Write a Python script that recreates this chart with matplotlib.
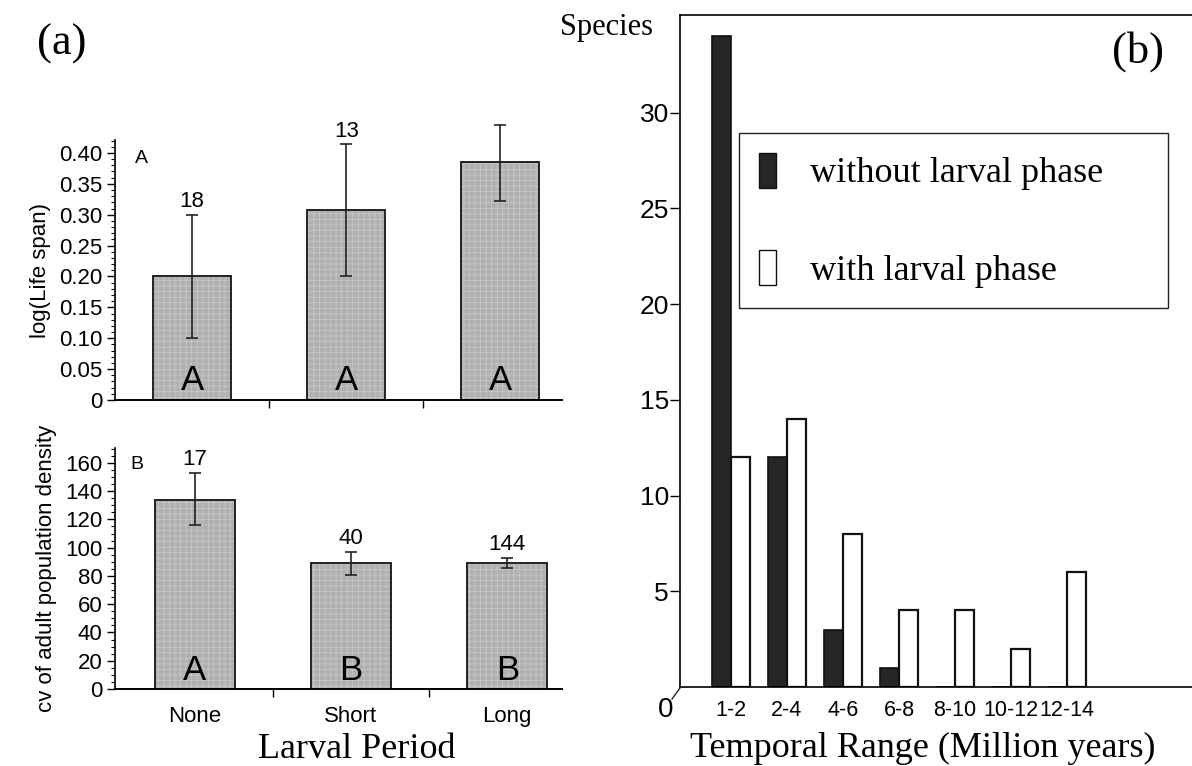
import numpy as np
from matplotlib import pyplot as plt
from matplotlib.patches import Patch
from matplotlib.lines import Line2D
from matplotlib.ticker import MultipleLocator

plt.rcParams['font.family'] = 'Liberation Sans'
plt.rcParams['xtick.direction'] = 'out'
plt.rcParams['ytick.direction'] = 'out'
plt.rcParams['hatch.linewidth'] = 0.5

# panel (a) data
larval = ['None', 'Short', 'Long']
life_mean = [0.20, 0.307, 0.385]
life_lo = [0.10, 0.20, 0.323]
life_hi = [0.30, 0.414, 0.445]
life_n = ['18', '13', '42']
life_grp = ['A', 'A', 'A']

cv_mean = [134, 89, 89]
cv_lo = [116, 81, 85.5]
cv_hi = [153, 97, 93]
cv_n = ['17', '40', '144']
cv_grp = ['A', 'B', 'B']

# panel (b) data
ranges = ['1-2', '2-4', '4-6', '6-8', '8-10', '10-12', '12-14']
without_larva = [34, 12, 3, 1, 0, 0, 0]
with_larva = [12, 14, 8, 4, 4, 2, 6]

W, H = 1192, 766
fig = plt.figure(figsize=(W/100, H/100), dpi=100)

def fx(px):
    return px / W
def fy(py):
    return 1 - py / H

serif = 'Liberation Serif'
gray = '#b0b0b0'


def bar_panel(ax, mean, lo, hi, nlab, grp, ylim, major, minor, fmt, xlim, width):
    x = np.arange(len(mean))
    # stippled grey fill, then the dark outline
    ax.bar(x, mean, width=width, color=gray, edgecolor='#c9c9c9', hatch='+++', linewidth=0, zorder=2)
    ax.bar(x, mean, width=width, fill=False, edgecolor='#222222', linewidth=1.4, zorder=2)
    err = [np.array(mean) - np.array(lo), np.array(hi) - np.array(mean)]
    eb = ax.errorbar(x, mean, yerr=err, fmt='none', ecolor='#222222', elinewidth=1.2,
                     capsize=4, capthick=1.2, zorder=3)
    for art in eb.lines[1] + eb.lines[2]:
        art.set_clip_on(False)
    for i in range(len(mean)):
        t = ax.annotate(nlab[i], (x[i], hi[i]), xytext=(0, 2), textcoords='offset points',
                        ha='center', va='bottom', fontsize=16)
        t.set_clip_on(False)
        ax.text(x[i], ylim[1] * 0.01, grp[i], ha='center', va='bottom', fontsize=25, zorder=4)
    ax.set_xlim(*xlim)
    ax.set_ylim(*ylim)
    ax.yaxis.set_major_locator(MultipleLocator(major))
    ax.yaxis.set_minor_locator(MultipleLocator(minor))
    ax.set_yticklabels([fmt(v) for v in ax.get_yticks()])
    ax.set_ylim(*ylim)
    ax.set_xticks([0.5, 1.5])
    ax.set_xticklabels([])
    ax.tick_params(axis='x', which='major', length=6, width=1)
    ax.tick_params(axis='y', which='major', length=6, width=1, labelsize=16, pad=3)
    ax.tick_params(axis='y', which='minor', length=3, width=0.8)
    for s in ['top', 'right']:
        ax.spines[s].set_visible(False)
    ax.spines['left'].set_linewidth(1.2)
    ax.spines['bottom'].set_linewidth(1.4)
    return x


axA = fig.add_axes([fx(115), fy(400), fx(562 - 115), (400 - 140) / H])
bar_panel(axA, life_mean, life_lo, life_hi, life_n, life_grp, (0, 0.421), 0.05, 0.01,
          lambda v: '0' if v == 0 else '%.2f' % v, (-0.5, 2.4), 0.505)
axA.set_ylabel('log(Life span)', fontsize=16, labelpad=6)
axA.text(0.045, 0.93, 'A', transform=axA.transAxes, fontsize=14, ha='left', va='center')

axB = fig.add_axes([fx(115), fy(689), fx(562 - 115), (689 - 448) / H])
xb = bar_panel(axB, cv_mean, cv_lo, cv_hi, cv_n, cv_grp, (0, 170.5), 20, 5,
               lambda v: '%d' % v, (-0.51, 2.35), 0.51)
axB.set_xticks(xb, minor=True)
axB.set_xticklabels(larval, minor=True, fontsize=16)
axB.tick_params(axis='x', which='minor', length=0, pad=12)
axB.set_ylabel('cv of adult population density', fontsize=16, labelpad=6)
axB.text(0.035, 0.93, 'B', transform=axB.transAxes, fontsize=14, ha='left', va='center')

fig.text(fx(62), fy(44), '(a)', family=serif, fontsize=32, ha='center', va='center')
fig.text(fx(357), fy(750), 'Larval Period', family=serif, fontsize=26, ha='center', va='center')

# panel (b)
axC = fig.add_axes([fx(680), fy(687), fx(1200 - 680), (687 - 15) / H])
xc = np.arange(len(ranges))
bw = 0.34
axC.bar(xc - bw, without_larva, width=bw, align='edge', color='#262626',
        edgecolor='#111111', linewidth=1.2, label='without larval phase')
axC.bar(xc, with_larva, width=bw, align='edge', color='white',
        edgecolor='#111111', linewidth=1.6, label='with larval phase')
axC.set_xlim(-0.91, 8.375)
axC.set_ylim(0, 35.1)
axC.set_yticks([5, 10, 15, 20, 25, 30])
axC.tick_params(axis='y', length=7, width=1, labelsize=19, pad=1)
axC.set_xticks(xc)
axC.set_xticklabels(ranges, fontsize=15.5)
axC.tick_params(axis='x', length=0, pad=9)
axC.spines['right'].set_visible(False)
for s in ['top', 'left', 'bottom']:
    axC.spines[s].set_linewidth(1.2)

handles = [Patch(facecolor='#262626', edgecolor='#111111', label='without larval phase'),
           Patch(facecolor='white', edgecolor='#111111', label='with larval phase')]
leg = axC.legend(handles=handles, loc='upper left',
                 bbox_to_anchor=(fx(739), fy(133), fx(1168 - 739), 0),
                 bbox_transform=fig.transFigure, mode='expand', borderaxespad=0,
                 prop={'family': serif, 'size': 26}, fancybox=False, framealpha=1,
                 edgecolor='#222222', handlelength=0.47, handleheight=1.1,
                 handletextpad=0.95, labelspacing=1.66, borderpad=0.55)
leg.get_frame().set_linewidth(1.0)

# small slanted mark at the origin next to the lone "0"
fig.add_artist(Line2D([fx(672), fx(680)], [fy(699), fy(688)], color='#222222', linewidth=1.0))
fig.text(fx(666), fy(710), '0', fontsize=20, ha='center', va='center')
fig.text(fx(606), fy(28), 'Species', family=serif, fontsize=22, ha='center', va='center')
fig.text(fx(1138), fy(52), '(b)', family=serif, fontsize=32, ha='center', va='center')
fig.text(fx(923), fy(748), 'Temporal Range (Million years)', family=serif, fontsize=26,
         ha='center', va='center')

plt.savefig('out.png', dpi=100)
